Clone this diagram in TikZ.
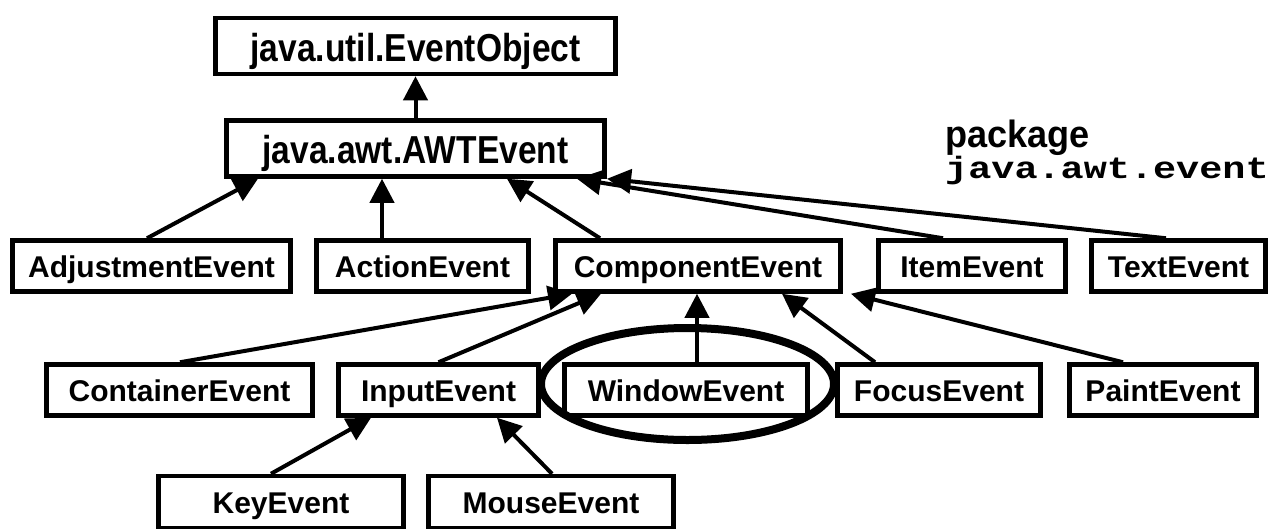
\documentclass[tikz,border=0pt]{standalone}
\usepackage{graphicx}
\usepackage{fontspec}
\setmainfont{Liberation Sans}
\newfontfamily\codefont{Liberation Mono}
\usetikzlibrary{arrows.meta}
\begin{document}
\begin{tikzpicture}[x=1pt,y=-1pt,
  box/.style={draw,line width=4.5pt,inner sep=0pt,minimum height=51pt,
    text height=23pt,text depth=0pt,
    font=\bfseries\fontsize{30}{36}\selectfont},
  topbox/.style={draw,line width=4.5pt,inner sep=0pt,minimum height=56pt,
    text height=30pt,text depth=0pt,
    font=\bfseries\fontsize{39}{44}\selectfont},
  inh/.style={line width=4pt,-{Triangle[length=24pt,width=24pt]}},
  ring/.style={line width=8pt}]
\fill[white] (0,0) rectangle (1272,528);
\useasboundingbox (0,0) rectangle (1272,528);

% top
\node[topbox,minimum width=400pt] (obj) at (415.5,46) {\scalebox{0.86}[1]{java.util.EventObject}};
\node[topbox,minimum width=378pt] (awt) at (415.5,148.5) {\scalebox{0.86}[1]{java.awt.AWTEvent}};

% row 2
\node[box,minimum width=278pt] (adj) at (151.5,266) {AdjustmentEvent};
\node[box,minimum width=212pt] (act) at (422.5,266) {ActionEvent};
\node[box,minimum width=285pt] (comp) at (698,266) {ComponentEvent};
\node[box,minimum width=187pt] (item) at (972,266) {ItemEvent};
\node[box,minimum width=174pt] (txt) at (1178.5,266) {TextEvent};

% row 3
\node[box,minimum width=266pt] (cont) at (179.5,390) {ContainerEvent};
\node[box,minimum width=200pt] (inp) at (438.5,390) {InputEvent};
\node[box,minimum width=243pt] (win) at (686,390) {WindowEvent};
\node[box,minimum width=203pt] (foc) at (939,390) {FocusEvent};
\node[box,minimum width=187pt] (pnt) at (1163,390) {PaintEvent};

% row 4
\node[box,minimum width=245pt,minimum height=52pt] (key) at (281,502) {KeyEvent};
\node[box,minimum width=245pt,minimum height=52pt] (mouse) at (551,502) {MouseEvent};

% package label
\node[anchor=base west,inner sep=0pt,font=\bfseries\fontsize{38}{40}\selectfont] (pkg) at (945,147) {\scalebox{0.95}[1]{package}};
\node[anchor=base west,inner sep=0pt,font=\codefont\bfseries\fontsize{38.5}{40}\selectfont] (pkgname) at (945,178) {\scalebox{1}[0.8]{java.awt.event}};

% connectors
\draw[inh] (awt.north) -- (obj.south);
\draw[inh] ([xshift=-4.5pt]adj.north) -- ([xshift=-157.5pt]awt.south);
\draw[inh] ([xshift=-40.5pt]act.north) -- ([xshift=-33.5pt]awt.south);
\draw[inh] ([xshift=-98pt]comp.north) -- ([xshift=91.5pt]awt.south);
\draw[inh] ([xshift=-29pt]item.north) -- ([xshift=161.5pt]awt.south);
\draw[inh] ([xshift=-12.5pt]txt.north) -- ([xshift=191.5pt]awt.south);

\draw[inh] ([xshift=0.5pt]cont.north) -- ([xshift=-126pt]comp.south);
\draw[inh] (inp.north) -- ([xshift=-97pt]comp.south);
\draw[inh] ([xshift=11pt]win.north) -- ([xshift=-1pt]comp.south);
\draw[inh] ([xshift=-64pt]foc.north) -- ([xshift=84pt]comp.south);
\draw[inh] ([xshift=-40pt]pnt.north) -- ([xshift=153pt]comp.south);

\draw[inh] ([xshift=-10pt]key.north) -- ([xshift=-67.5pt]inp.south);
\draw[inh] ([xshift=1pt]mouse.north) -- ([xshift=58.5pt]inp.south);

% highlight ring
\draw[ring] (687.5,384) ellipse [x radius=146.5pt, y radius=56pt];
\end{tikzpicture}
\end{document}
